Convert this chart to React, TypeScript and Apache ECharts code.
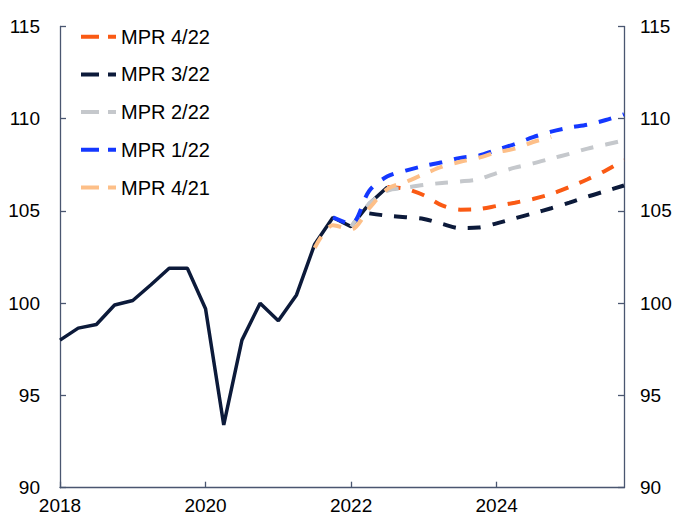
import React, { useEffect, useRef } from 'react';
import * as echarts from 'echarts';

// Quarterly categories, 2018Q1 .. 2025Q4
const quarters = [
  '2018Q1', '2018Q2', '2018Q3', '2018Q4',
  '2019Q1', '2019Q2', '2019Q3', '2019Q4',
  '2020Q1', '2020Q2', '2020Q3', '2020Q4',
  '2021Q1', '2021Q2', '2021Q3', '2021Q4',
  '2022Q1', '2022Q2', '2022Q3', '2022Q4',
  '2023Q1', '2023Q2', '2023Q3', '2023Q4',
  '2024Q1', '2024Q2', '2024Q3', '2024Q4',
  '2025Q1', '2025Q2', '2025Q3', '2025Q4',
];
const xTickLabels = ['2018', '2020', '2022', '2024'];
const yTicks = [90, 95, 100, 105, 110, 115];

// Historical (solid), starts 2018Q1
const actualStart = '2018Q1';
const actual = [98.0, 98.65, 98.85, 99.9, 100.15, 101.0, 101.9, 101.9, 99.7, 93.4, 98.0, 100.0, 99.05, 100.45, 103.2, 104.65, 104.15, 105.4, 106.3];

// Projections
const mpr422Start = '2022Q3';
const mpr422 = [106.3, 106.2, 105.85, 105.3, 105.07, 105.1, 105.27, 105.45, 105.65, 105.92, 106.3, 106.72, 107.2, 107.76];

const mpr322Start = '2022Q2';
const mpr322 = [104.87, 104.74, 104.66, 104.57, 104.3, 104.07, 104.1, 104.33, 104.6, 104.87, 105.15, 105.45, 105.78, 106.08, 106.38];

const mpr222Start = '2022Q1';
const mpr222 = [104.15, 105.4, 106.1, 106.26, 106.41, 106.52, 106.6, 106.72, 107.05, 107.35, 107.58, 107.84, 108.1, 108.38, 108.6, 108.83];

const mpr122Start = '2021Q4';
const mpr122 = [104.65, 104.3, 106.1, 106.88, 107.19, 107.44, 107.64, 107.88, 108.0, 108.31, 108.63, 109.0, 109.3, 109.52, 109.68, 109.93, 110.24];

const mpr421Start = '2021Q3';
const mpr421 = [103.0, 104.22, 104.0, 105.15, 106.2, 106.57, 107.0, 107.4, 107.67, 107.88, 108.18, 108.38, 108.74, 109.02];

const seriesNames = ['MPR 4/22', 'MPR 3/22', 'MPR 2/22', 'MPR 1/22', 'MPR 4/21'];
const seriesColors = ['#fa5a14', '#0c1a3a', '#c5c8cc', '#1438ff', '#fdbf88'];

const FONT = 'Arial, "Liberation Sans", Helvetica, sans-serif';
const AXIS_COLOR = '#4a5670';

function toPairs(start: string, values: number[]) {
  const s = quarters.indexOf(start);
  return values.map((v, k) => [quarters[s + k], v]);
}

export default function App() {
  const ref = useRef<HTMLDivElement>(null);
  useEffect(() => {
    if (!ref.current) return;
    const chart = echarts.init(ref.current, null, { renderer: 'svg' });
    const projections = [
      toPairs(mpr422Start, mpr422),
      toPairs(mpr322Start, mpr322),
      toPairs(mpr222Start, mpr222),
      toPairs(mpr122Start, mpr122),
      toPairs(mpr421Start, mpr421),
    ];
    const isLabelIdx = (idx: number) => {
      const q = quarters[idx];
      return q.endsWith('Q1') && xTickLabels.includes(q.slice(0, 4));
    };
    const yAxisBase = {
      type: 'value',
      min: yTicks[0],
      max: yTicks[yTicks.length - 1],
      interval: 5,
      splitLine: { show: false },
      axisLine: { show: true, lineStyle: { color: AXIS_COLOR, width: 1.3 } },
      axisTick: { show: true, inside: true, length: 6, lineStyle: { color: AXIS_COLOR, width: 1.3 } },
    };
    chart.setOption({
      animation: false,
      backgroundColor: '#ffffff',
      grid: { left: 60, right: 51, top: 26.5, bottom: 27.3, containLabel: false },
      legend: {
        orient: 'vertical',
        left: 74,
        top: 21.7,
        itemWidth: 35,
        itemHeight: 20,
        itemGap: 17.7,
        data: seriesNames,
        itemStyle: { opacity: 0 },
        lineStyle: { type: [18, 9], width: 4, cap: 'butt' },
        textStyle: { fontFamily: FONT, fontSize: 20, color: '#000', lineHeight: 20 },
        selectedMode: false,
      },
      xAxis: {
        type: 'category',
        data: quarters,
        boundaryGap: false,
        axisLine: { show: true, lineStyle: { color: AXIS_COLOR, width: 1.3 } },
        axisTick: { show: true, inside: true, length: 6, interval: (idx: number) => isLabelIdx(idx), lineStyle: { color: AXIS_COLOR, width: 1.3 } },
        axisLabel: {
          interval: (idx: number) => isLabelIdx(idx),
          formatter: (v: string) => v.slice(0, 4),
          fontFamily: FONT,
          fontSize: 19,
          color: '#000',
          margin: 8,
        },
        splitLine: { show: false },
      },
      yAxis: [
        {
          ...yAxisBase,
          position: 'left',
          axisLabel: { fontFamily: FONT, fontSize: 19, color: '#000', margin: 20, padding: [0, 0, 6, 0] },
        },
        {
          ...yAxisBase,
          position: 'right',
          axisLabel: { fontFamily: FONT, fontSize: 19, color: '#000', margin: 16, padding: [0, 0, 6, 0] },
        },
      ],
      series: [
        {
          name: 'Faktisk',
          type: 'line',
          data: toPairs(actualStart, actual),
          symbol: 'none',
          lineStyle: { color: '#0c1a3a', width: 3.5 },
          z: 2,
        },
        ...seriesNames.map((name, i) => ({
          name,
          type: 'line',
          data: projections[i],
          symbol: 'none',
          smooth: 0.3,
          color: seriesColors[i],
          lineStyle: { color: seriesColors[i], width: 4, type: [13, 12], cap: 'butt' },
          z: 3,
        })),
      ],
    });
    return () => chart.dispose();
  }, []);
  return <div ref={ref} style={{ position: 'fixed', left: 0, top: 0, width: 675, height: 515 }} />;
}
